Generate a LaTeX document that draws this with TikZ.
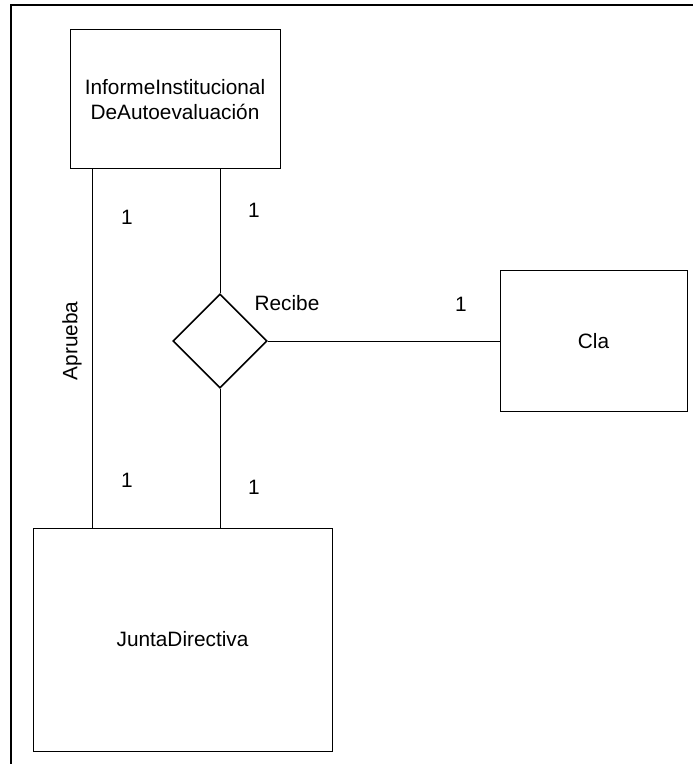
\documentclass[tikz,border=0pt]{standalone}
\usepackage{fontspec}
\setmainfont{Liberation Sans}
\usetikzlibrary{positioning,shapes.geometric}

\begin{document}
\begin{tikzpicture}[
    x=0.5pt, y=-0.5pt,
    entidad/.style={draw, line width=0.5pt, align=center, inner sep=0pt,
                    font=\fontsize{10.4}{12.5}\selectfont},
    relacion/.style={draw, diamond, aspect=1, line width=0.8pt,
                     minimum size=47pt, inner sep=0pt},
    etiqueta/.style={inner sep=0pt, font=\fontsize{10.4}{12.5}\selectfont},
    linea/.style={line width=0.5pt}]
  \useasboundingbox (0,0) rectangle (693,764);
  \draw[line width=1pt] (11,764) -- (11,5.5) -- (693,5.5);
  \node[entidad, minimum width=105pt, minimum height=69.5pt] (informe) at (175,99.5)
    {InformeInstitucional\\DeAutoevaluación};
  \node[entidad, minimum width=149.5pt, minimum height=111.5pt] (junta) at (182.5,639.5)
    {JuntaDirectiva};
  \node[entidad, minimum width=93.5pt, minimum height=70pt] (cla) at (593.5,341) {Cla};
  \node[relacion] (recibe) at (220,341) {};
  \node[etiqueta] (lrecibe) at (287,303) {Recibe};
  \node[etiqueta, rotate=90] (laprueba) at (72,341) {Aprueba};
  % cardinalidades
  \node[etiqueta] (c1) at (127,217) {1};
  \node[etiqueta] (c2) at (127,480) {1};
  \node[etiqueta] (c3) at (254,210) {1};
  \node[etiqueta] (c4) at (254,487) {1};
  \node[etiqueta] (c5) at (461,304) {1};
  \draw[linea] ([xshift=11.5pt]informe.south west) coordinate (a) -- (a |- junta.north);
  \draw[linea] (recibe.north |- informe.south) -- (recibe.north);
  \draw[linea] (recibe.south) -- (recibe.south |- junta.north);
  \draw[linea] (recibe.east) -- (recibe.east -| cla.west);
\end{tikzpicture}
\end{document}
